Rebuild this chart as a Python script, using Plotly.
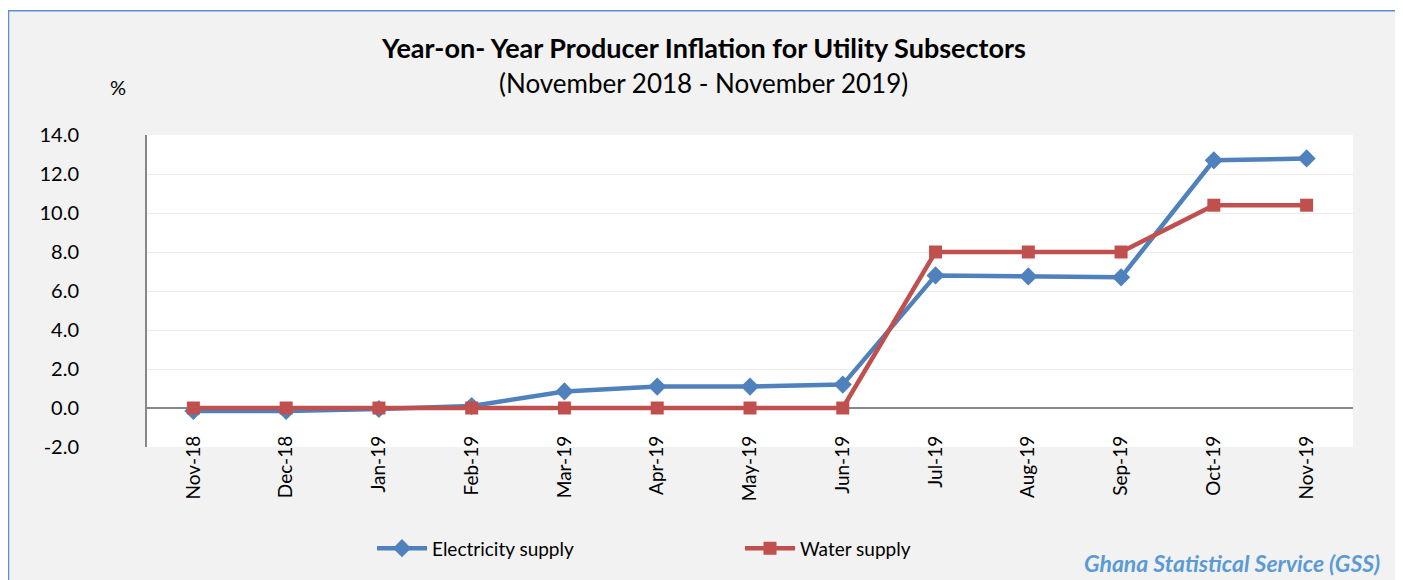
import plotly.graph_objects as go

months = ["Nov-18", "Dec-18", "Jan-19", "Feb-19", "Mar-19", "Apr-19", "May-19",
          "Jun-19", "Jul-19", "Aug-19", "Sep-19", "Oct-19", "Nov-19"]
electricity = [-0.15, -0.15, -0.05, 0.1, 0.85, 1.1, 1.1, 1.2, 6.8, 6.75, 6.7, 12.7, 12.8]
water = [0.0, 0.0, 0.0, 0.0, 0.0, 0.0, 0.0, 0.0, 8.0, 8.0, 8.0, 10.4, 10.4]
y_ticks = [-2, 0, 2, 4, 6, 8, 10, 12, 14]
y_tick_labels = ["-2.0", "0.0", "2.0", "4.0", "6.0", "8.0", "10.0", "12.0", "14.0"]

# page body adds an 8px offset; positions below are given in screen pixels
OFF = 8
W, H = 1403 - OFF, 580 - OFF
L, R, T, B = 147, 1353, 135, 449   # plot area in screen pixels

def px(x):
    return (x - L) / (R - L)

def py(y):
    return (B - y) / (B - T)

FONT = "Lato"

fig = go.Figure()
fig.add_trace(go.Scatter(
    x=months, y=electricity, name="Electricity supply", mode="lines+markers",
    line=dict(color="#4f81bd", width=4.5),
    marker=dict(symbol="diamond", size=14, color="#4f81bd"),
))
fig.add_trace(go.Scatter(
    x=months, y=water, name="Water supply", mode="lines+markers",
    line=dict(color="#c0504d", width=4.5),
    marker=dict(symbol="square", size=13, color="#c0504d"),
))

fig.update_layout(
    width=W, height=H,
    margin=dict(l=L - OFF, r=W - (R - OFF), t=T - OFF, b=H - (B - OFF)),
    paper_bgcolor="#f2f2f2",
    plot_bgcolor="#ffffff",
    font=dict(family=FONT, size=19, color="#000000"),
    showlegend=True,
    legend=dict(orientation="h", x=px(372), y=py(551), xanchor="left", yanchor="middle",
                font=dict(family=FONT, size=19), entrywidth=303, entrywidthmode="pixels",
                bgcolor="rgba(0,0,0,0)", itemwidth=50),
    xaxis=dict(
        type="category", tickangle=-90, showgrid=False, showline=False,
        ticks="", tickfont=dict(family=FONT, size=19), zeroline=False,
        range=[-0.5, len(months) - 0.5], ticklabelstandoff=-16,
    ),
    yaxis=dict(
        range=[-2, 14], tickvals=y_ticks, ticktext=y_tick_labels,
        showgrid=True, gridcolor="#ececec", gridwidth=1,
        zeroline=True, zerolinecolor="#878787", zerolinewidth=2,
        showline=True, linecolor="#878787", linewidth=2,
        ticks="", tickfont=dict(family=FONT, size=20), ticklabelstandoff=62,
    ),
)

shapes = [
    dict(type="rect", xref="paper", yref="paper", x0=px(-5), x1=px(1410), y0=py(-5), y1=py(9.5),
         fillcolor="#ffffff", line=dict(width=0), layer="above"),
    dict(type="rect", xref="paper", yref="paper", x0=px(1398.5), x1=px(1410), y0=py(-5), y1=py(590),
         fillcolor="#ffffff", line=dict(width=0), layer="above"),
    dict(type="rect", xref="paper", yref="paper", x0=px(8.5), x1=px(1398), y0=py(10), y1=py(600),
         fillcolor="rgba(0,0,0,0)", line=dict(color="#5b8fcf", width=1.5), layer="above"),
]
fig.update_layout(shapes=shapes)

fig.add_annotation(text="<b>Year-on- Year Producer Inflation for Utility Subsectors</b>",
                   xref="paper", yref="paper", x=px(703), y=py(47), showarrow=False,
                   xanchor="center", yanchor="middle", font=dict(family=FONT, size=27))
fig.add_annotation(text="(November 2018 - November 2019)",
                   xref="paper", yref="paper", x=px(703), y=py(83), showarrow=False,
                   xanchor="center", yanchor="middle", font=dict(family=FONT, size=26))
fig.add_annotation(text="%", xref="paper", yref="paper", x=px(118), y=py(87), showarrow=False,
                   xanchor="center", yanchor="middle", font=dict(family=FONT, size=20))
fig.add_annotation(text="<b><i>Ghana Statistical Service (GSS)</i></b>",
                   xref="paper", yref="paper", x=px(1382), y=py(566), showarrow=False,
                   xanchor="right", yanchor="middle",
                   font=dict(family=FONT, size=23, color="#5b9bd5"))

fig.write_html("out.html")
